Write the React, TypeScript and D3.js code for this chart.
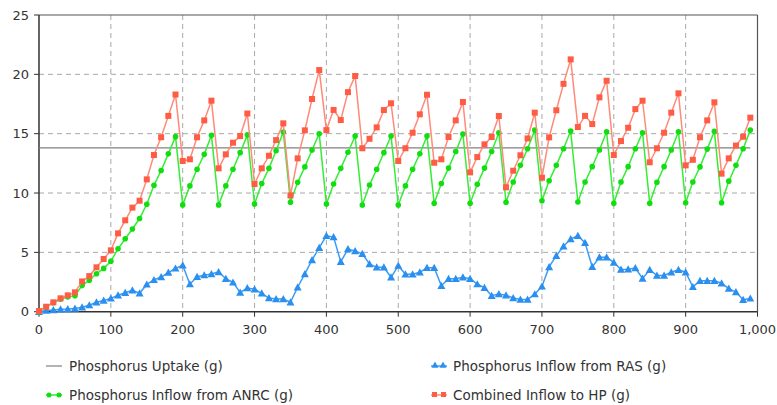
import React from "react";
import * as d3 from "d3";

const days: number[] = Array.from({ length: 100 }, (_, i) => i * 10);

const uptakeValue = 13.8;
const uptakeRange = [0, 990];

const anrc: number[] = [
  0, 0.4, 0.75, 1.05, 1.25, 1.35, 2.2, 2.65, 3.2, 3.65,
  4.25, 5.3, 6.15, 6.97, 7.85, 9.05, 10.65, 11.9, 13.3, 14.75,
  9.0, 10.6, 12.0, 13.26, 14.86, 9.0, 10.6, 12.0, 13.4, 14.9,
  9.07, 10.8, 12.08, 13.56, 15.14, 9.22, 10.9, 12.2, 13.62, 15.0,
  9.07, 10.76, 12.08, 13.43, 14.8, 8.99, 10.67, 12.0, 13.4, 14.8,
  8.99, 10.6, 12.0, 13.3, 14.8, 9.13, 10.8, 12.1, 13.5, 14.97,
  9.13, 10.73, 12.1, 13.5, 15.08, 9.22, 10.93, 12.33, 13.73, 15.3,
  9.35, 11.04, 12.33, 13.73, 15.22, 9.24, 10.93, 12.22, 13.62, 15.16,
  9.13, 10.93, 12.22, 13.73, 15.08, 9.13, 10.9, 12.22, 13.62, 15.16,
  9.18, 10.93, 12.2, 13.7, 15.2, 9.18, 11.0, 12.33, 13.73, 15.3,
];

const ras: number[] = [
  0, 0.1, 0.14, 0.2, 0.22, 0.27, 0.38, 0.55, 0.8, 0.95,
  1.12, 1.38, 1.6, 1.8, 1.55, 2.3, 2.68, 2.92, 3.3, 3.65,
  3.92, 2.32, 2.95, 3.08, 3.18, 3.35, 2.78, 2.47, 1.62, 2.0,
  1.89, 1.55, 1.15, 1.07, 1.07, 0.8, 2.06, 3.18, 4.36, 5.39,
  6.4, 6.29, 4.2, 5.28, 5.11, 4.88, 4.02, 3.74, 3.74, 2.9,
  3.88, 3.15, 3.15, 3.32, 3.7, 3.7, 2.19, 2.78, 2.78, 2.9,
  2.78, 2.32, 2.02, 1.35, 1.49, 1.38, 1.15, 1.02, 1.02, 1.48,
  2.13, 3.77, 4.72, 5.52, 6.12, 6.4, 5.8, 3.78, 4.59, 4.59,
  4.15, 3.55, 3.57, 3.68, 2.8, 3.54, 3.05, 3.05, 3.33, 3.54,
  3.33, 2.09, 2.6, 2.6, 2.6, 2.4, 1.95, 1.66, 1.01, 1.12,
];

const combined: number[] = [
  0.05, 0.42, 0.79, 1.13, 1.38, 1.63, 2.55, 3.0, 3.74, 4.44,
  5.17, 6.6, 7.7, 8.77, 9.35, 11.15, 13.2, 14.7, 16.5, 18.3,
  12.7, 12.84, 14.7, 16.12, 17.78, 12.08, 13.26, 14.24, 14.8, 16.7,
  10.76, 12.08, 13.14, 14.46, 15.87, 9.8, 12.92, 15.28, 17.92, 20.36,
  15.3, 17.0, 16.15, 18.5, 19.86, 13.77, 14.57, 15.53, 16.99, 17.56,
  12.7, 13.77, 15.08, 16.63, 18.28, 12.55, 12.84, 14.72, 16.12, 17.67,
  11.74, 13.03, 14.1, 14.72, 16.49, 10.48, 11.88, 13.18, 14.6, 16.77,
  11.29, 14.69, 16.97, 19.2, 21.26, 15.56, 16.5, 15.81, 18.06, 19.46,
  13.2, 14.38, 15.5, 17.07, 17.78, 12.59, 13.77, 15.08, 16.77, 18.4,
  12.33, 12.8, 14.7, 16.12, 17.64, 11.63, 12.92, 14.0, 14.74, 16.35,
];

const xTicks: number[] = [0, 100, 200, 300, 400, 500, 600, 700, 800, 900, 1000];
const yTicks: number[] = [0, 5, 10, 15, 20, 25];

const legendLabels = [
  "Phosphorus Uptake (g)",
  "Phosphorus Inflow from RAS (g)",
  "Phosphorus Inflow from ANRC (g)",
  "Combined Inflow to HP (g)",
];

const W = 777;
const H = 405;
const L = 39;
const R = 757.5;
const T = 15;
const B = 311.7;

const FONT = "'DejaVu Sans', Verdana, sans-serif";
const TXT = "#333";

const GREEN_LINE = "#33ee33";
const GREEN_PT = "#11dd11";
const BLUE_LINE = "#3a9cf5";
const BLUE_PT = "#2b8ff0";
const RED_LINE = "#ff8a78";
const RED_PT = "#ff5c45";
const GRAY = "#808080";

export default function App() {
  const x = d3.scaleLinear().domain([0, 1000]).range([L, R]);
  const y = d3.scaleLinear().domain([0, 25]).range([B, T]);

  const line = (vals: number[]) =>
    d3
      .line<number>()
      .x((_, i) => x(days[i]))
      .y((v) => y(v))(vals) || "";

  const tri = (cx: number, cy: number, s: number) =>
    `M${cx},${cy - s} L${cx + s},${cy + s * 0.8} L${cx - s},${cy + s * 0.8} Z`;

  return (
    <svg
      width={W}
      height={H}
      style={{ position: "absolute", left: 0, top: 0, background: "#fff" }}
      fontFamily={FONT}
    >
      <rect x={0} y={0} width={W} height={H} fill="#fff" />
      {/* gridlines */}
      {xTicks.slice(1, -1).map((t) => (
        <line
          key={"gx" + t}
          x1={x(t)}
          x2={x(t)}
          y1={T}
          y2={B}
          stroke="#a8a8a8"
          strokeDasharray="5,4"
          strokeWidth={1}
        />
      ))}
      {yTicks.slice(1, -1).map((t) => (
        <line
          key={"gy" + t}
          x1={L}
          x2={R}
          y1={y(t)}
          y2={y(t)}
          stroke="#a8a8a8"
          strokeDasharray="5,4"
          strokeWidth={1}
        />
      ))}
      {/* frame */}
      <line x1={L} x2={R} y1={T} y2={T} stroke="#555" strokeWidth={1.2} />
      <line x1={R} x2={R} y1={T} y2={B} stroke="#555" strokeWidth={1.2} />
      <line x1={L} x2={L} y1={T} y2={B} stroke="#333" strokeWidth={1.5} />
      <line x1={L} x2={R} y1={B} y2={B} stroke="#333" strokeWidth={1.5} />

      {/* y axis ticks */}
      {yTicks.map((t) => (
        <g key={"yt" + t}>
          <line x1={L - 5} x2={L} y1={y(t)} y2={y(t)} stroke="#333" />
          <text
            x={L - 10}
            y={y(t)}
            dy="0.35em"
            textAnchor="end"
            fontSize={13}
            fill={TXT}
          >
            {t}
          </text>
        </g>
      ))}
      {/* x axis ticks */}
      {xTicks.map((t) => (
        <g key={"xt" + t}>
          <line x1={x(t)} x2={x(t)} y1={B} y2={B + 5} stroke="#333" />
          <text
            x={x(t)}
            y={B + 22}
            textAnchor="middle"
            fontSize={13}
            fill={TXT}
          >
            {d3.format(",")(t)}
          </text>
        </g>
      ))}

      {/* uptake line */}
      <line
        x1={x(uptakeRange[0])}
        x2={x(uptakeRange[1])}
        y1={y(uptakeValue)}
        y2={y(uptakeValue)}
        stroke={GRAY}
        strokeWidth={1.2}
      />

      {/* RAS */}
      <path d={line(ras)} fill="none" stroke={BLUE_LINE} strokeWidth={1.5} />
      {ras.map((v, i) => (
        <path key={"b" + i} d={tri(x(days[i]), y(v), 4)} fill={BLUE_PT} />
      ))}

      {/* ANRC */}
      <path d={line(anrc)} fill="none" stroke={GREEN_LINE} strokeWidth={1.5} />
      {anrc.map((v, i) => (
        <circle key={"g" + i} cx={x(days[i])} cy={y(v)} r={2.8} fill={GREEN_PT} />
      ))}

      {/* Combined */}
      <path d={line(combined)} fill="none" stroke={RED_LINE} strokeWidth={1.5} />
      {combined.map((v, i) => (
        <rect
          key={"r" + i}
          x={x(days[i]) - 3}
          y={y(v) - 3}
          width={6}
          height={6}
          fill={RED_PT}
        />
      ))}

      {/* legend */}
      <g fontSize={13.5} fill={TXT}>
        <line x1={46} x2={62} y1={366} y2={366} stroke={GRAY} strokeWidth={1.2} />
        <text x={69} y={366} dy="0.35em">{legendLabels[0]}</text>
        <line x1={431} x2={447} y1={366} y2={366} stroke={BLUE_LINE} strokeWidth={1.5} />
        <path d={tri(435, 365, 3.5)} fill={BLUE_PT} />
        <path d={tri(443, 365, 3.5)} fill={BLUE_PT} />
        <text x={453} y={366} dy="0.35em">{legendLabels[1]}</text>
        <line x1={46} x2={62} y1={395} y2={395} stroke={GREEN_LINE} strokeWidth={1.5} />
        <circle cx={49} cy={395} r={2.5} fill={GREEN_PT} />
        <circle cx={59} cy={395} r={2.5} fill={GREEN_PT} />
        <text x={69} y={395} dy="0.35em">{legendLabels[2]}</text>
        <line x1={431} x2={447} y1={395} y2={395} stroke={RED_LINE} strokeWidth={1.5} />
        <rect x={432} y={392} width={5} height={5} fill={RED_PT} />
        <rect x={441} y={392} width={5} height={5} fill={RED_PT} />
        <text x={453} y={395} dy="0.35em">{legendLabels[3]}</text>
      </g>
    </svg>
  );
}
